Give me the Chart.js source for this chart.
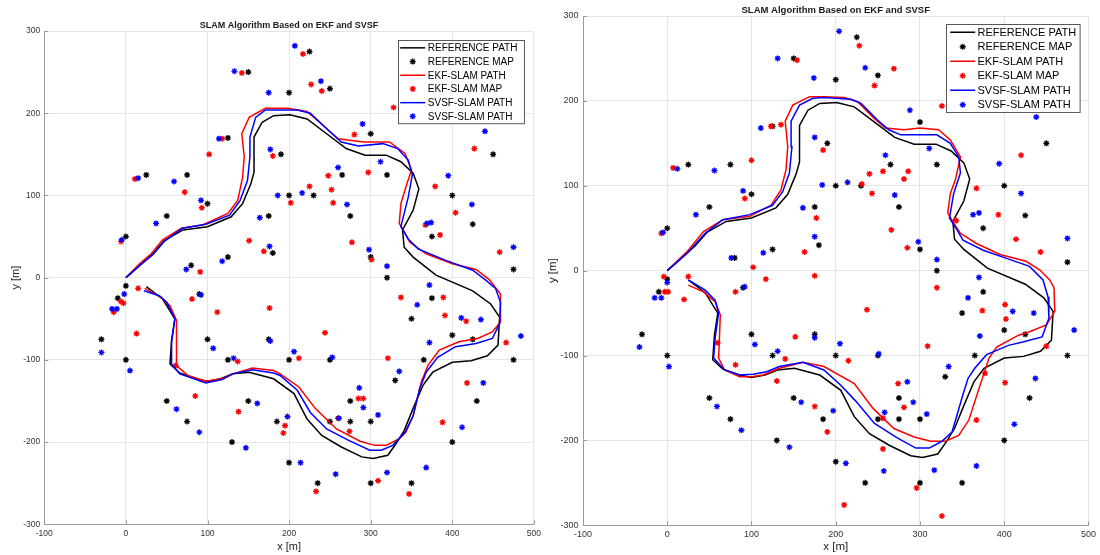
<!DOCTYPE html>
<html lang="en">
<head>
<meta charset="UTF-8">
<title>SLAM Algorithm Based on EKF and SVSF</title>
<style>
  body { margin: 0; background: #fff; width: 1100px; height: 555px; position: relative; overflow: hidden; }
  canvas { position: absolute; top: 0; }
  #leftChart { left: 0; }
  #rightChart { left: 540px; }
</style>
</head>
<body>
<canvas id="leftChart" width="545" height="555"></canvas>
<canvas id="rightChart" width="560" height="555"></canvas>
<script src="https://cdn.jsdelivr.net/npm/chart.js"></script>
<script>
// ground truth: robot path and landmark map (same in both runs)
const refPath = [[0,0],[15,13],[33,29],[47,45],[70,58],[100,62],[129,74],[143,90],[153,114],[157,128],[157,171],[167,189],[181,197],[201,198],[222,193],[246,175],[270,157],[293,149],[319,149],[337,141],[352,127],[359,108],[352,82],[339,58],[341,37],[352,25],[380,3],[425,-16],[447,-32],[458,-48],[456,-82],[443,-95],[423,-101],[400,-103],[376,-115],[364,-131],[352,-159],[341,-186],[331,-202],[321,-216],[303,-220],[289,-218],[264,-206],[240,-192],[222,-172],[206,-141],[181,-123],[151,-115],[131,-117],[116,-123],[100,-126],[86,-123],[66,-116],[54,-105],[56,-76],[60,-50],[45,-26],[25,-11]];

const refMap = [[150,250],[125,170],[25,125],[75,125],[100,90],[50,75],[0,50],[175,75],[180,30],[125,25],[80,15],
  [225,275],[200,225],[250,230],[190,150],[300,175],[450,150],[265,125],[320,125],[200,100],[230,100],[400,100],[275,75],[425,65],[375,50],[300,25],[320,0],[475,10],
  [0,-10],[-10,-25],[-30,-75],[0,-100],[90,-20],[100,-75],[125,-100],[175,-75],[50,-150],[150,-150],[75,-175],[130,-200],
  [375,-25],[350,-50],[400,-70],[425,-75],[200,-100],[250,-100],[365,-100],[475,-100],[330,-125],[275,-150],[185,-175],[250,-175],[275,-175],[300,-175],[430,-150],[400,-200],[200,-225],[235,-250],[300,-250],[350,-250]];

// run 1 (left panel)
const ekfPath1 = [[0,0],[17,17],[31,29],[45,46],[68,60],[94,64],[125,78],[137,94],[143,122],[145,147],[142,175],[151,195],[171,206],[198,206],[222,202],[242,185],[260,169],[291,165],[323,165],[342,151],[350,131],[343,110],[337,90],[335,66],[342,54],[348,43],[368,29],[400,17],[429,10],[445,-2],[459,-20],[459,-54],[449,-66],[431,-74],[408,-78],[384,-88],[370,-107],[362,-127],[352,-168],[343,-188],[335,-196],[319,-204],[305,-204],[287,-199],[258,-184],[232,-159],[212,-133],[189,-117],[181,-113],[155,-110],[131,-117],[118,-123],[98,-126],[76,-119],[62,-107],[62,-52],[54,-34],[43,-24],[23,-13]];

const ekfMap1 = [[142,249],[118,169],[102,150],[11,120],[72,104],[93,85],[-6,44],[151,45],[169,32],[91,7],[180,148],
  [217,272],[227,235],[240,227],[280,174],[328,207],[427,157],[248,124],[297,128],[225,111],[252,107],[202,91],[254,91],[379,111],[404,79],[367,64],[385,52],[277,43],[301,22],[458,31],
  [15,-13],[-6,-29],[-3,-31],[-15,-42],[13,-68],[81,-26],[112,-42],[176,-37],[61,-107],[137,-102],[85,-144],[138,-163],
  [337,-24],[389,-24],[391,-46],[417,-53],[466,-79],[244,-67],[212,-98],[321,-98],[418,-128],[285,-147],[291,-147],[260,-171],[388,-176],[195,-180],[193,-189],[274,-187],[309,-247],[233,-260],[347,-263]];

const svsfPath1 = [[0,0],[17,15],[33,28],[47,44],[69,60],[98,65],[127,76],[140,94],[149,118],[152,147],[152,171],[159,195],[171,204],[181,204],[210,204],[226,200],[244,183],[264,165],[285,160],[315,163],[333,157],[346,143],[351,125],[346,98],[337,62],[346,47],[358,35],[392,21],[425,9],[441,-3],[453,-13],[459,-30],[458,-56],[449,-74],[429,-80],[404,-84],[382,-97],[368,-115],[360,-135],[352,-168],[342,-188],[327,-204],[313,-210],[299,-210],[273,-198],[246,-184],[226,-164],[210,-137],[189,-119],[181,-116],[155,-112],[131,-117],[118,-124],[98,-128],[66,-117],[56,-105],[56,-78],[60,-50],[50,-30],[41,-22],[22,-16]];

const svsfMap1 = [[133,251],[175,225],[114,169],[15,121],[59,117],[92,94],[37,66],[-5,46],[164,73],[176,38],[118,20],[74,10],[177,156],
  [207,282],[239,239],[290,187],[440,178],[260,134],[312,141],[395,124],[186,100],[216,103],[271,89],[424,89],[369,66],[374,67],[298,34],[320,14],[475,37],
  [-2,-20],[-17,-38],[-11,-38],[-30,-91],[5,-113],[92,-21],[107,-86],[132,-98],[177,-77],[62,-160],[161,-153],[90,-188],[147,-207],
  [372,-9],[357,-33],[411,-49],[435,-51],[484,-71],[372,-79],[206,-90],[253,-97],[335,-114],[286,-134],[291,-158],[438,-128],[198,-169],[261,-171],[309,-167],[412,-182],[214,-225],[257,-239],[320,-237],[368,-231]];

// run 2 (right panel)
const ekfPath2 = [[0,0],[25,24],[43,46],[66,60],[98,64],[123,77],[135,95],[141,119],[143,146],[140,176],[149,195],[169,205],[186,205],[210,204],[226,199],[245,180],[259,168],[281,166],[300,168],[322,166],[336,154],[348,134],[342,107],[336,91],[333,68],[340,56],[348,44],[367,32],[395,19],[426,11],[442,1],[454,-11],[459,-20],[460,-48],[450,-64],[430,-72],[417,-76],[391,-90],[382,-103],[370,-139],[358,-176],[346,-194],[330,-201],[313,-201],[293,-196],[269,-186],[244,-162],[222,-133],[186,-113],[161,-108],[133,-115],[114,-123],[100,-125],[86,-125],[68,-117],[61,-103],[63,-52],[57,-37],[43,-25],[25,-17]];

const ekfMap2 = [[154,248],[123,170],[135,172],[100,130],[7,121],[92,85],[-7,44],[177,62],[163,22],[102,4],[185,142],
  [228,265],[269,238],[246,218],[326,194],[420,136],[240,114],[256,117],[286,117],[281,108],[231,102],[243,91],[266,48],[285,27],[343,59],[367,97],[393,66],[414,37],[443,22],
  [-4,-7],[25,-7],[117,-10],[175,-6],[-3,-25],[1,-25],[20,-34],[81,-25],[60,-85],[152,-78],[81,-111],[140,-104],[130,-130],[175,-160],
  [320,-20],[374,-47],[401,-40],[402,-57],[450,-89],[237,-46],[215,-106],[309,-89],[377,-121],[401,-132],[274,-133],[281,-161],[256,-174],[367,-176],[190,-190],[256,-210],[296,-256],[326,-289],[210,-276]];

const svsfPath2 = [[0,0],[25,22],[45,44],[66,60],[98,66],[125,77],[137,93],[145,115],[148,146],[147,176],[157,195],[173,203],[186,204],[218,202],[230,197],[249,178],[263,166],[277,160],[300,160],[320,160],[336,150],[346,134],[348,115],[340,91],[335,62],[344,48],[351,36],[375,24],[407,13],[430,5],[446,-11],[452,-31],[453,-56],[445,-78],[422,-84],[405,-88],[379,-99],[365,-115],[357,-127],[351,-146],[344,-170],[338,-190],[326,-201],[311,-209],[295,-209],[273,-197],[246,-180],[224,-154],[206,-135],[186,-117],[161,-108],[133,-113],[118,-119],[102,-122],[86,-123],[68,-117],[55,-103],[57,-78],[61,-50],[57,-35],[45,-23],[25,-11]];

const svsfMap2 = [[131,250],[174,227],[111,168],[175,157],[12,120],[56,118],[90,94],[34,66],[161,74],[-5,45],[184,101],[175,40],[114,21],[76,15],
  [204,282],[235,239],[288,189],[438,181],[259,136],[311,144],[394,126],[214,104],[270,89],[420,91],[363,66],[370,68],[298,34],[320,13],[475,38],[370,-8],
  [0,-14],[-15,-32],[-7,-32],[92,-19],[-33,-90],[2,-113],[104,-87],[131,-95],[175,-79],[59,-160],[159,-155],[88,-188],[145,-208],
  [357,-32],[410,-48],[435,-50],[483,-70],[371,-77],[205,-86],[251,-98],[334,-113],[285,-131],[292,-155],[437,-127],[197,-165],[258,-167],[308,-169],[412,-181],[212,-227],[257,-236],[317,-235],[367,-230]];

const seriesLabels = ['REFERENCE PATH', 'REFERENCE MAP', 'EKF-SLAM PATH', 'EKF-SLAM MAP', 'SVSF-SLAM PATH', 'SVSF-SLAM PATH'];
const chartTitle = 'SLAM Algorithm Based on EKF and SVSF';
const xTicks = [-100, 0, 100, 200, 300, 400, 500];
const yTicks = [-300, -200, -100, 0, 100, 200, 300];

const FONT = '"Liberation Sans", Arial, Helvetica, sans-serif';
Chart.defaults.font.family = FONT;

const toXY = arr => arr.map(p => ({ x: p[0], y: p[1] }));

function pathSet(label, pts, color, order) {
  return { label, data: toXY(pts), showLine: true, borderColor: color, borderWidth: 1.5,
           pointRadius: 0, fill: false, tension: 0, order };
}
function mapSet(label, pts, color, order) {
  return { label, data: toXY(pts), showLine: false, pointStyle: 'star', pointRadius: 3,
           pointBorderWidth: 1.3, borderColor: color, backgroundColor: color, order };
}

// asterisk marker, same shape as chart.js 'star'
function drawStar(ctx, x, y, r) {
  ctx.beginPath();
  for (let k = 0; k < 4; k++) {
    const a = k * Math.PI / 4;
    ctx.moveTo(x - r * Math.cos(a), y - r * Math.sin(a));
    ctx.lineTo(x + r * Math.cos(a), y + r * Math.sin(a));
  }
  ctx.stroke();
}

// title, inward tick marks and the in-axes legend box
const axesDecor = {
  id: 'axesDecor',
  afterDraw(chart, args, o) {
    const { ctx, chartArea: a, scales } = chart;
    ctx.save();

    ctx.strokeStyle = '#9a9a9a';
    ctx.lineWidth = 1;
    ctx.beginPath();
    scales.x.ticks.forEach(t => {
      const px = Math.round(scales.x.getPixelForValue(t.value)) + 0.5;
      ctx.moveTo(px, a.bottom); ctx.lineTo(px, a.bottom - 4);
    });
    scales.y.ticks.forEach(t => {
      const py = Math.round(scales.y.getPixelForValue(t.value)) + 0.5;
      ctx.moveTo(a.left, py); ctx.lineTo(a.left + 4, py);
    });
    ctx.stroke();

    ctx.fillStyle = '#1a1a1a';
    ctx.font = `bold ${o.titleSize}px ${FONT}`;
    ctx.textAlign = 'center';
    ctx.textBaseline = 'middle';
    ctx.fillText(chartTitle, (a.left + a.right) / 2, a.top - o.titleGap);

    const lg = o.legend;
    const sets = chart.data.datasets;
    ctx.font = `${lg.size}px ${FONT}`;
    const textW = Math.max(...sets.map(d => ctx.measureText(d.label).width));
    const w = lg.padL + lg.sample + lg.gap + textW + lg.padR;
    const h = lg.row * sets.length + 2 * lg.padV;
    const x0 = Math.round(a.right - lg.offX - w) + 0.5;
    const y0 = Math.round(a.top + lg.offY) + 0.5;
    ctx.fillStyle = '#fff';
    ctx.fillRect(x0, y0, w, h);
    ctx.strokeStyle = '#595959';
    ctx.strokeRect(x0, y0, w, h);

    sets.forEach((d, i) => {
      const cy = y0 + lg.padV + lg.row * (i + 0.5);
      const sx = x0 + lg.padL;
      ctx.strokeStyle = d.borderColor;
      if (d.showLine) {
        ctx.lineWidth = d.borderWidth;
        ctx.beginPath();
        ctx.moveTo(sx, cy); ctx.lineTo(sx + lg.sample, cy);
        ctx.stroke();
      } else {
        ctx.lineWidth = d.pointBorderWidth;
        drawStar(ctx, sx + lg.sample / 2, cy, d.pointRadius);
      }
      ctx.fillStyle = '#000';
      ctx.textAlign = 'left';
      ctx.textBaseline = 'middle';
      ctx.fillText(d.label, sx + lg.sample + lg.gap, cy + 0.5);
    });
    ctx.restore();
  }
};

function makeChart(id, ekfPath, ekfMap, svsfPath, svsfMap, L) {
  const datasets = [
    pathSet(seriesLabels[0], refPath, '#000000', 6),
    mapSet(seriesLabels[1], refMap, '#000000', 5),
    pathSet(seriesLabels[2], ekfPath, '#ff0000', 4),
    mapSet(seriesLabels[3], ekfMap, '#ff0000', 3),
    pathSet(seriesLabels[4], svsfPath, '#0000ff', 2),
    mapSet(seriesLabels[5], svsfMap, '#0000ff', 1)
  ];
  const grid = { color: '#e6e6e6', lineWidth: 1, drawTicks: false };
  const border = { display: true, color: '#9a9a9a', width: 1 };
  return new Chart(document.getElementById(id), {
    type: 'scatter',
    data: { datasets },
    options: {
      responsive: false,
      animation: false,
      events: [],
      layout: { padding: { top: L.top, right: L.right, bottom: 0, left: 0 } },
      plugins: {
        legend: { display: false },
        tooltip: { enabled: false },
        axesDecor: L.decor
      },
      scales: {
        x: {
          type: 'linear', min: -100, max: 500,
          afterBuildTicks: s => { s.ticks = xTicks.map(v => ({ value: v })); },
          ticks: { color: '#333', font: { size: L.tick }, padding: L.xPad, maxRotation: 0, autoSkip: false },
          grid, border,
          title: { display: true, text: 'x [m]', color: '#222', font: { size: L.axisTitle }, padding: { top: 0, bottom: L.xTitlePad } },
          afterFit: s => { s.height = L.xHeight; }
        },
        y: {
          type: 'linear', min: -300, max: 300,
          afterBuildTicks: s => { s.ticks = yTicks.map(v => ({ value: v })); },
          ticks: { color: '#333', font: { size: L.tick }, padding: L.yPad, autoSkip: false },
          grid, border,
          title: { display: true, text: 'y [m]', color: '#222', font: { size: L.axisTitle }, padding: { top: L.yTitlePad, bottom: 0 } },
          afterFit: s => { s.width = L.yWidth; }
        }
      }
    },
    plugins: [axesDecor]
  });
}

makeChart('leftChart', ekfPath1, ekfMap1, svsfPath1, svsfMap1, {
  top: 31, right: 7.3, yWidth: 44.3, xHeight: 30.7, tick: 8.5, xPad: 4, yPad: 4,
  axisTitle: 11, xTitlePad: 1.4, yTitlePad: 9.4,
  decor: { titleSize: 9, titleGap: 5,
           legend: { size: 10, row: 13.7, padV: 0.5, padL: 1.7, sample: 25, gap: 2.6, padR: 7, offX: 9.7, offY: 9 } }
});

makeChart('rightChart', ekfPath2, ekfMap2, svsfPath2, svsfMap2, {
  top: 16, right: 8, yWidth: 43, xHeight: 29.7, tick: 9, xPad: 4, yPad: 4.5,
  axisTitle: 11.5, xTitlePad: 1.4, yTitlePad: 5.6,
  decor: { titleSize: 9.5, titleGap: 6,
           legend: { size: 11, row: 14.5, padV: 0.5, padL: 3.7, sample: 25, gap: 2.3, padR: 4, offX: 9, offY: 8 } }
});
</script>
</body>
</html>
